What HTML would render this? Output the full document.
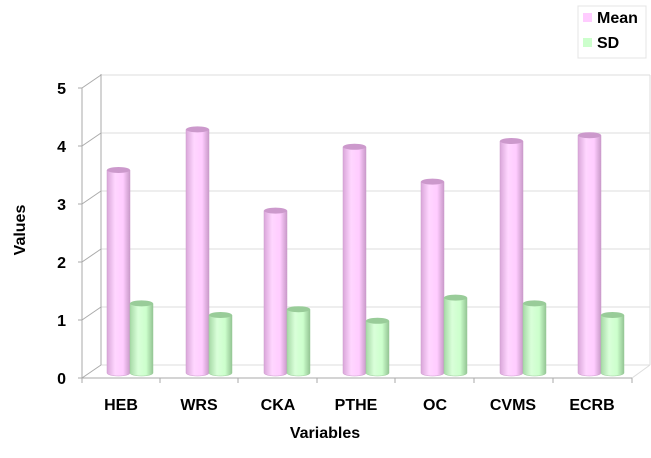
<!DOCTYPE html><html><head><style>body{margin:0;background:#fff}svg{display:block;font-family:"Liberation Sans",Arial,sans-serif;font-weight:bold}</style></head><body>
<svg width="651" height="458" viewBox="0 0 651 458">
<defs>
<linearGradient id="m" x1="0" x2="1"><stop offset="0" stop-color="#d9a6d9"/><stop offset="0.35" stop-color="#ffd6ff"/><stop offset="0.7" stop-color="#ffccff"/><stop offset="1" stop-color="#c99ac9"/></linearGradient>
<linearGradient id="s" x1="0" x2="1"><stop offset="0" stop-color="#a6d9a6"/><stop offset="0.35" stop-color="#d9ffd9"/><stop offset="0.7" stop-color="#ccffcc"/><stop offset="1" stop-color="#94c494"/></linearGradient>
</defs>
<g stroke="#ddd" fill="none">
<line x1="101" y1="307" x2="650" y2="307"/><line x1="101" y1="249" x2="650" y2="249"/><line x1="101" y1="191" x2="650" y2="191"/><line x1="101" y1="133" x2="650" y2="133"/><line x1="101" y1="75" x2="650" y2="75"/><line x1="650" y1="75" x2="650" y2="365"/>
<line x1="101" y1="365" x2="650" y2="365"/><line x1="632" y1="378" x2="650" y2="365"/>
</g>
<g stroke="#aaa" fill="none">
<line x1="101" y1="74" x2="101" y2="365"/>
<line x1="82" y1="88" x2="82" y2="378"/><line x1="82" y1="378" x2="632" y2="378"/>
<line x1="82" y1="378" x2="101" y2="365"/><line x1="82" y1="320" x2="101" y2="307"/><line x1="82" y1="262" x2="101" y2="249"/><line x1="82" y1="204" x2="101" y2="191"/><line x1="82" y1="146" x2="101" y2="133"/><line x1="82" y1="88" x2="101" y2="75"/>
<line x1="78" y1="378" x2="82" y2="378"/><line x1="78" y1="320" x2="82" y2="320"/><line x1="78" y1="262" x2="82" y2="262"/><line x1="78" y1="204" x2="82" y2="204"/><line x1="78" y1="146" x2="82" y2="146"/><line x1="78" y1="88" x2="82" y2="88"/>
<line x1="82" y1="378" x2="82" y2="383"/><line x1="160" y1="378" x2="160" y2="383"/><line x1="238" y1="378" x2="238" y2="383"/><line x1="317" y1="378" x2="317" y2="383"/><line x1="395" y1="378" x2="395" y2="383"/><line x1="474" y1="378" x2="474" y2="383"/><line x1="553" y1="378" x2="553" y2="383"/><line x1="632" y1="378" x2="632" y2="383"/>
</g>
<g stroke-width="0.5">
<path d="M107,170V373A11.5,3 0 0 0 130,373V170Z" fill="url(#m)" stroke="#cc99cc"/><ellipse cx="118.5" cy="170" rx="11.5" ry="3" fill="#cc99cc"/>
<path d="M130,303.4V373A11.5,3 0 0 0 153,373V303.4Z" fill="url(#s)" stroke="#99cc99"/><ellipse cx="141.5" cy="303.4" rx="11.5" ry="3" fill="#99cc99"/>
<path d="M186,129.4V373A11.5,3 0 0 0 209,373V129.4Z" fill="url(#m)" stroke="#cc99cc"/><ellipse cx="197.5" cy="129.4" rx="11.5" ry="3" fill="#cc99cc"/>
<path d="M209,315V373A11.5,3 0 0 0 232,373V315Z" fill="url(#s)" stroke="#99cc99"/><ellipse cx="220.5" cy="315" rx="11.5" ry="3" fill="#99cc99"/>
<path d="M264,210.6V373A11.5,3 0 0 0 287,373V210.6Z" fill="url(#m)" stroke="#cc99cc"/><ellipse cx="275.5" cy="210.6" rx="11.5" ry="3" fill="#cc99cc"/>
<path d="M287,309.2V373A11.5,3 0 0 0 310,373V309.2Z" fill="url(#s)" stroke="#99cc99"/><ellipse cx="298.5" cy="309.2" rx="11.5" ry="3" fill="#99cc99"/>
<path d="M343,146.8V373A11.5,3 0 0 0 366,373V146.8Z" fill="url(#m)" stroke="#cc99cc"/><ellipse cx="354.5" cy="146.8" rx="11.5" ry="3" fill="#cc99cc"/>
<path d="M366,320.8V373A11.5,3 0 0 0 389,373V320.8Z" fill="url(#s)" stroke="#99cc99"/><ellipse cx="377.5" cy="320.8" rx="11.5" ry="3" fill="#99cc99"/>
<path d="M421,181.6V373A11.5,3 0 0 0 444,373V181.6Z" fill="url(#m)" stroke="#cc99cc"/><ellipse cx="432.5" cy="181.6" rx="11.5" ry="3" fill="#cc99cc"/>
<path d="M444,297.6V373A11.5,3 0 0 0 467,373V297.6Z" fill="url(#s)" stroke="#99cc99"/><ellipse cx="455.5" cy="297.6" rx="11.5" ry="3" fill="#99cc99"/>
<path d="M500,141V373A11.5,3 0 0 0 523,373V141Z" fill="url(#m)" stroke="#cc99cc"/><ellipse cx="511.5" cy="141" rx="11.5" ry="3" fill="#cc99cc"/>
<path d="M523,303.4V373A11.5,3 0 0 0 546,373V303.4Z" fill="url(#s)" stroke="#99cc99"/><ellipse cx="534.5" cy="303.4" rx="11.5" ry="3" fill="#99cc99"/>
<path d="M578,135.2V373A11.5,3 0 0 0 601,373V135.2Z" fill="url(#m)" stroke="#cc99cc"/><ellipse cx="589.5" cy="135.2" rx="11.5" ry="3" fill="#cc99cc"/>
<path d="M601,315V373A11.5,3 0 0 0 624,373V315Z" fill="url(#s)" stroke="#99cc99"/><ellipse cx="612.5" cy="315" rx="11.5" ry="3" fill="#99cc99"/>
</g>
<g font-size="16" text-anchor="end"><text x="66" y="384">0</text><text x="66" y="326">1</text><text x="66" y="268">2</text><text x="66" y="210">3</text><text x="66" y="152">4</text><text x="66" y="94">5</text></g>
<g font-size="16" text-anchor="middle"><text x="121" y="410">HEB</text><text x="199" y="410">WRS</text><text x="278" y="410">CKA</text><text x="356" y="410">PTHE</text><text x="435" y="410">OC</text><text x="513" y="410">CVMS</text><text x="592" y="410">ECRB</text>
<text x="325" y="438">Variables</text><text transform="translate(25,230) rotate(-90)">Values</text></g>
<rect x="578" y="6" width="68" height="52" fill="#fff" stroke="#e4e4e4"/>
<rect x="583" y="13" width="9" height="9" fill="#ffccff"/><rect x="583" y="38" width="9" height="9" fill="#ccffcc"/>
<text x="597" y="23" font-size="16">Mean</text><text x="597" y="48" font-size="16">SD</text>
</svg></body></html>
